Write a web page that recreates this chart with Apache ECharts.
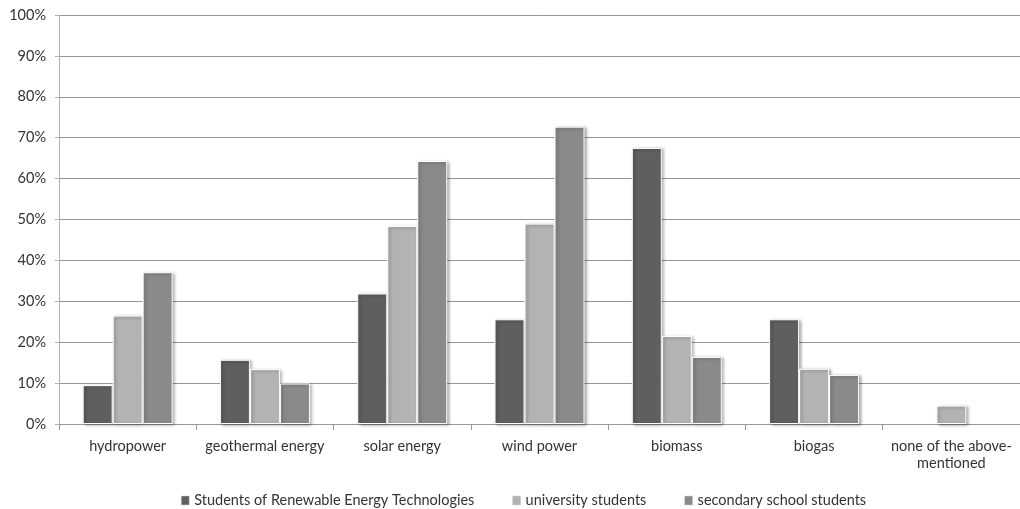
<!DOCTYPE html>
<html>
<head>
<meta charset="utf-8">
<title>Renewable energy sources known by students</title>
<script src="https://cdn.jsdelivr.net/npm/echarts@6/dist/echarts.min.js"></script>
<style>
  html, body { margin: 0; padding: 0; background: #ffffff; }
  #chart { width: 1020px; height: 509px; }
</style>
</head>
<body>
<div id="chart"></div>
<script>
// Energy sources shown on the category axis
const categories = [
  'hydropower',
  'geothermal energy',
  'solar energy',
  'wind power',
  'biomass',
  'biogas',
  'none of the above-\nmentioned'
];

// Share of respondents in each group (%)
const renewableTechStudents = [9.5, 15.7, 31.9, 25.6, 67.5, 25.6, 0];
const universityStudents    = [26.5, 13.4, 48.4, 49.0, 21.5, 13.5, 4.5];
const secondarySchool       = [37.1, 9.9, 64.3, 72.7, 16.4, 12.0, 0];

const seriesNames = [
  'Students of Renewable Energy Technologies',
  'university students',
  'secondary school students'
];

// Value axis ticks
const yMin = 0;
const yMax = 100;
const yStep = 10;

const FONT = 'Lato, "Liberation Sans", sans-serif';
const TEXT = '#333333';
const FONT_SIZE = 14.5;

const chart = echarts.init(document.getElementById('chart'), null, { renderer: 'canvas' });

// Zero values get no outline or shadow, so nothing is drawn for them
function toItems(values) {
  return values.map(function (v) {
    if (v === 0) {
      return { value: v, itemStyle: { borderWidth: 0, shadowBlur: 0, shadowOffsetX: 0, shadowOffsetY: 0 } };
    }
    return v;
  });
}

function barSeries(name, data, color) {
  return {
    name: name,
    type: 'bar',
    data: toItems(data),
    barWidth: 30,
    barGap: '0%',
    itemStyle: {
      color: color,
      borderColor: '#ffffff',
      borderWidth: 1,
      shadowColor: 'rgba(0,0,0,0.35)',
      shadowBlur: 3,
      shadowOffsetX: 2,
      shadowOffsetY: 1
    },
    emphasis: { disabled: true }
  };
}

chart.setOption({
  animation: false,
  backgroundColor: '#ffffff',
  textStyle: { fontFamily: FONT },
  grid: { left: 59, right: 0, top: 15, bottom: 85, containLabel: false },
  legend: {
    data: seriesNames,
    top: 488,
    left: 176,
    icon: 'rect',
    itemWidth: 8,
    itemHeight: 9,
    itemGap: 38,
    itemStyle: { borderColor: '#d0d0d0', borderWidth: 0.5 },
    textStyle: { fontFamily: FONT, fontSize: FONT_SIZE, color: TEXT, padding: [0, 0, 0, 0] },
    selectedMode: false
  },
  xAxis: {
    type: 'category',
    data: categories,
    axisLine: { show: true, lineStyle: { color: '#9a9a9a', width: 1 } },
    axisTick: { show: true, length: 6, alignWithLabel: false, lineStyle: { color: '#9a9a9a' } },
    axisLabel: {
      fontFamily: FONT,
      fontSize: FONT_SIZE,
      color: TEXT,
      margin: 14,
      lineHeight: 17,
      interval: 0
    },
    splitLine: { show: false }
  },
  yAxis: {
    type: 'value',
    min: yMin,
    max: yMax,
    interval: yStep,
    axisLine: { show: true, lineStyle: { color: '#b0b0b0', width: 1 } },
    axisTick: { show: true, length: 4, inside: false, lineStyle: { color: '#b0b0b0' } },
    axisLabel: {
      fontFamily: FONT,
      fontSize: FONT_SIZE,
      color: TEXT,
      margin: 13,
      formatter: '{value}%'
    },
    splitLine: { show: true, lineStyle: { color: '#969696', width: 1 } }
  },
  series: [
    barSeries(seriesNames[0], renewableTechStudents, '#5f5f5f'),
    barSeries(seriesNames[1], universityStudents, '#b3b3b3'),
    barSeries(seriesNames[2], secondarySchool, '#8a8a8a')
  ]
});
</script>
</body>
</html>
